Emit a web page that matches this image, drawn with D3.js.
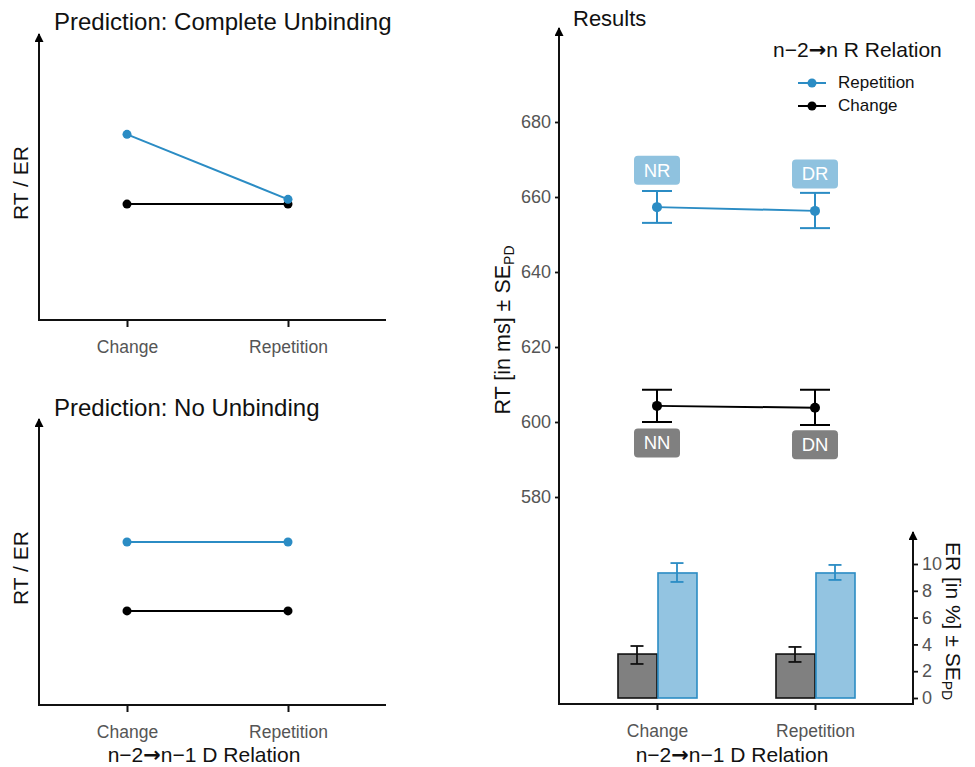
<!DOCTYPE html>
<html>
<head>
<meta charset="utf-8">
<script src="https://cdn.jsdelivr.net/npm/d3@7"></script>
<style>
  html, body { margin: 0; padding: 0; background: #fff; }
  svg { display: block; font-family: "Liberation Sans", Arial, Helvetica, sans-serif; }
</style>
</head>
<body>
<svg id="chart" width="975" height="767"></svg>
<script>
// ---------- DATA ----------
const categories = ["Change", "Repetition"];
const seriesNames = ["Repetition", "Change"];

// Prediction panels (arbitrary units)
const completeRep = [6.63, 4.31];
const completeChg = [4.14, 4.14];
const noUnbRep = [5.82, 5.82];
const noUnbChg = [3.36, 3.36];

// Results: RT (ms)
const rtRep = [657.3, 656.3];
const rtRepLo = [653.1, 651.7];
const rtRepHi = [661.6, 661.1];
const rtChg = [604.3, 603.8];
const rtChgLo = [600.0, 599.2];
const rtChgHi = [608.6, 608.6];
const rtRepLabels = ["NR", "DR"];
const rtChgLabels = ["NN", "DN"];
const rtTicks = [580, 600, 620, 640, 660, 680];

// Results: ER (%)
const erChg = [3.28, 3.28];
const erChgLo = [2.54, 2.69];
const erChgHi = [3.88, 3.81];
const erRep = [9.33, 9.33];
const erRepLo = [8.66, 8.81];
const erRepHi = [10.07, 9.93];
const erTicks = [0, 2, 4, 6, 8, 10];

// ---------- STYLE ----------
const BLUE = "#2b8cc4";
const LIGHTBLUE = "#93c4e1";
const LABELBLUE = "#8fc2df";
const GRAY = "#808080";
const BLACK = "#000";
const TICKGRAY = "#555";
const FONT = "Liberation Sans, Arial, sans-serif";

const svg = d3.select("#chart");
const defs = svg.append("defs");
defs.append("marker")
  .attr("id", "arrow").attr("viewBox", "0 0 10 10")
  .attr("refX", 9).attr("refY", 5)
  .attr("markerWidth", 12).attr("markerHeight", 9)
  .attr("markerUnits", "userSpaceOnUse")
  .attr("orient", "auto")
  .append("path").attr("d", "M0,0 L10,5 L0,10 Z").attr("fill", "#000");

function arrowLine(g, x1, y1, x2, y2, arrow) {
  const l = g.append("line")
    .attr("x1", x1).attr("y1", y1).attr("x2", x2).attr("y2", y2)
    .attr("stroke", "#111").attr("stroke-width", 2);
  if (arrow) l.attr("marker-end", "url(#arrow)");
  return l;
}

function relationText(sel, parts) {
  // parts: array of strings; arrow rendered in DejaVu Sans
  parts.forEach(p => {
    const t = sel.append("tspan").text(p);
    if (p === "\u2192") t.attr("font-family", "DejaVu Sans, sans-serif").attr("font-weight", "bold");
  });
}

function styleTicks(ax, size) {
  ax.selectAll(".tick line").attr("stroke", "#111").attr("stroke-width", 1.8);
  ax.selectAll(".tick text").attr("fill", TICKGRAY).attr("font-size", size).attr("font-family", FONT);
}

// ---------- PREDICTION PANELS ----------
function predictionPanel(opt) {
  const g = svg.append("g");
  const x = d3.scalePoint().domain(categories).range([127, 288]);
  const y = d3.scaleLinear().domain([0, 10]).range([opt.bottom, opt.bottom - 280]);

  arrowLine(g, 39, opt.bottom + 1, 39, opt.bottom - 286, true);
  arrowLine(g, 38, opt.bottom, 386, opt.bottom, false);
  const ax = g.append("g").attr("transform", `translate(0,${opt.bottom})`)
    .call(d3.axisBottom(x).tickSize(7).tickPadding(14));
  ax.select(".domain").remove();
  styleTicks(ax, 17.5);
  ax.selectAll(".tick line").attr("stroke-width", 2);

  g.append("text").attr("x", 54).attr("y", opt.titleY)
    .attr("font-size", 24).attr("fill", "#111").text(opt.title);
  g.append("text")
    .attr("transform", `translate(28,${opt.bottom - 137}) rotate(-90)`)
    .attr("text-anchor", "middle").attr("font-size", 21).attr("fill", "#111")
    .text("RT / ER");

  const line = d3.line().x((d, i) => x(categories[i])).y(d => y(d));
  const series = [{ v: opt.chg, c: BLACK }, { v: opt.rep, c: BLUE }];
  series.forEach(s => {
    g.append("path").attr("d", line(s.v)).attr("fill", "none")
      .attr("stroke", s.c).attr("stroke-width", 2);
    g.selectAll(null).data(s.v).enter().append("circle")
      .attr("cx", (d, i) => x(categories[i])).attr("cy", d => y(d))
      .attr("r", 4.5).attr("fill", s.c);
  });
  return g;
}

predictionPanel({ title: "Prediction: Complete Unbinding", titleY: 30, bottom: 320,
  rep: completeRep, chg: completeChg });
const p2 = predictionPanel({ title: "Prediction: No Unbinding", titleY: 416, bottom: 705,
  rep: noUnbRep, chg: noUnbChg });
const xt1 = p2.append("text").attr("x", 204).attr("y", 762).attr("text-anchor", "middle")
  .attr("font-size", 21).attr("fill", "#111");
relationText(xt1, ["n\u22122", "\u2192", "n\u22121 D Relation"]);

// ---------- RESULTS PANEL ----------
const R = svg.append("g");
const xr = d3.scalePoint().domain(categories).range([657, 815]);
const yRT = d3.scaleLinear().domain([580, 680]).range([497, 122]);
const yER = d3.scaleLinear().domain([0, 10]).range([698, 564]);
const AXL = 559, AXR = 913, AXB = 704;

R.append("text").attr("x", 573).attr("y", 26).attr("font-size", 22).attr("fill", "#111").text("Results");

// bars (ER)
const barW = 40;
const barData = [];
categories.forEach((c, i) => {
  barData.push({ c, v: erChg[i], lo: erChgLo[i], hi: erChgHi[i], off: -barW, fill: GRAY, stroke: "#111", err: "#111" });
  barData.push({ c, v: erRep[i], lo: erRepLo[i], hi: erRepHi[i], off: 0, fill: LIGHTBLUE, stroke: BLUE, err: BLUE });
});
R.selectAll(".bar").data(barData).enter().append("rect")
  .attr("x", d => xr(d.c) + d.off + 1).attr("y", d => yER(d.v))
  .attr("width", barW - 1).attr("height", d => yER(0) - yER(d.v))
  .attr("fill", d => d.fill).attr("stroke", d => d.stroke).attr("stroke-width", 1.6);
barData.forEach(d => {
  const cx = xr(d.c) + d.off + barW / 2;
  const eg = R.append("g").attr("stroke", d.err).attr("stroke-width", 1.8);
  eg.append("line").attr("x1", cx).attr("x2", cx).attr("y1", yER(d.lo)).attr("y2", yER(d.hi));
  eg.append("line").attr("x1", cx - 6.5).attr("x2", cx + 6.5).attr("y1", yER(d.lo)).attr("y2", yER(d.lo));
  eg.append("line").attr("x1", cx - 6.5).attr("x2", cx + 6.5).attr("y1", yER(d.hi)).attr("y2", yER(d.hi));
});

// axes
arrowLine(R, AXL, AXB + 1, AXL, 28, true);
arrowLine(R, AXL - 1, AXB, AXR + 1, AXB, false);
arrowLine(R, AXR, AXB + 1, AXR, 532, true);

const axRT = R.append("g").attr("transform", `translate(${AXL},0)`)
  .call(d3.axisLeft(yRT).tickValues(rtTicks).tickSize(4).tickPadding(4));
axRT.select(".domain").remove();
styleTicks(axRT, 18);

const axER = R.append("g").attr("transform", `translate(${AXR},0)`)
  .call(d3.axisRight(yER).tickValues(erTicks).tickSize(5).tickPadding(4));
axER.select(".domain").remove();
styleTicks(axER, 18);

const axX = R.append("g").attr("transform", `translate(0,${AXB})`)
  .call(d3.axisBottom(xr).tickSize(6).tickPadding(15));
axX.select(".domain").remove();
styleTicks(axX, 17.5);
axX.selectAll(".tick line").attr("stroke-width", 2);

const xt2 = R.append("text").attr("x", 732).attr("y", 762).attr("text-anchor", "middle")
  .attr("font-size", 21).attr("fill", "#111");
relationText(xt2, ["n\u22122", "\u2192", "n\u22121 D Relation"]);

// axis titles
const rtTitle = R.append("text")
  .attr("transform", "translate(510,330) rotate(-90)")
  .attr("text-anchor", "middle").attr("font-size", 21.5).attr("fill", "#111");
rtTitle.append("tspan").text("RT [in ms] \u00b1 SE");
rtTitle.append("tspan").attr("font-size", 14).attr("dy", 4).text("PD");

const erTitle = R.append("text")
  .attr("transform", "translate(946,621) rotate(90)")
  .attr("text-anchor", "middle").attr("font-size", 21).attr("fill", "#111");
erTitle.append("tspan").text("ER [in %] \u00b1 SE");
erTitle.append("tspan").attr("font-size", 14).attr("dy", 4).text("PD");

// RT lines with error bars
const rtSeries = [
  { v: rtChg, lo: rtChgLo, hi: rtChgHi, c: BLACK, labels: rtChgLabels, lab: GRAY, off: 37 },
  { v: rtRep, lo: rtRepLo, hi: rtRepHi, c: BLUE, labels: rtRepLabels, lab: LABELBLUE, off: -37 }
];
const rtLine = d3.line().x((d, i) => xr(categories[i])).y(d => yRT(d));
rtSeries.forEach(s => {
  const g = R.append("g");
  g.append("path").attr("d", rtLine(s.v)).attr("fill", "none")
    .attr("stroke", s.c).attr("stroke-width", 2);
  categories.forEach((c, i) => {
    const cx = xr(c);
    g.append("line").attr("x1", cx).attr("x2", cx).attr("y1", yRT(s.lo[i])).attr("y2", yRT(s.hi[i]))
      .attr("stroke", s.c).attr("stroke-width", 2);
    [s.lo[i], s.hi[i]].forEach(v => {
      g.append("line").attr("x1", cx - 15).attr("x2", cx + 15).attr("y1", yRT(v)).attr("y2", yRT(v))
        .attr("stroke", s.c).attr("stroke-width", 2);
    });
    g.append("circle").attr("cx", cx).attr("cy", yRT(s.v[i])).attr("r", 5).attr("fill", s.c);
    const ly = yRT(s.v[i]) + s.off;
    g.append("rect").attr("x", cx - 23).attr("y", ly - 14.5).attr("width", 46).attr("height", 29)
      .attr("rx", 4).attr("fill", s.lab);
    g.append("text").attr("x", cx).attr("y", ly + 6.5).attr("text-anchor", "middle")
      .attr("font-size", 18.5).attr("fill", "#fff").text(s.labels[i]);
  });
});

// legend
const L = R.append("g");
const lt = L.append("text").attr("x", 773).attr("y", 57).attr("font-size", 21).attr("fill", "#111");
relationText(lt, ["n\u22122", "\u2192", "n R Relation"]);
const legendColors = { "Repetition": BLUE, "Change": BLACK };
seriesNames.forEach((s, i) => {
  const yy = 83 + i * 23;
  L.append("line").attr("x1", 798).attr("x2", 826).attr("y1", yy).attr("y2", yy)
    .attr("stroke", legendColors[s]).attr("stroke-width", 2);
  L.append("circle").attr("cx", 812).attr("cy", yy).attr("r", 4.5).attr("fill", legendColors[s]);
  L.append("text").attr("x", 838).attr("y", yy + 5).attr("font-size", 17).attr("fill", "#111").text(s);
});
</script>
</body>
</html>
